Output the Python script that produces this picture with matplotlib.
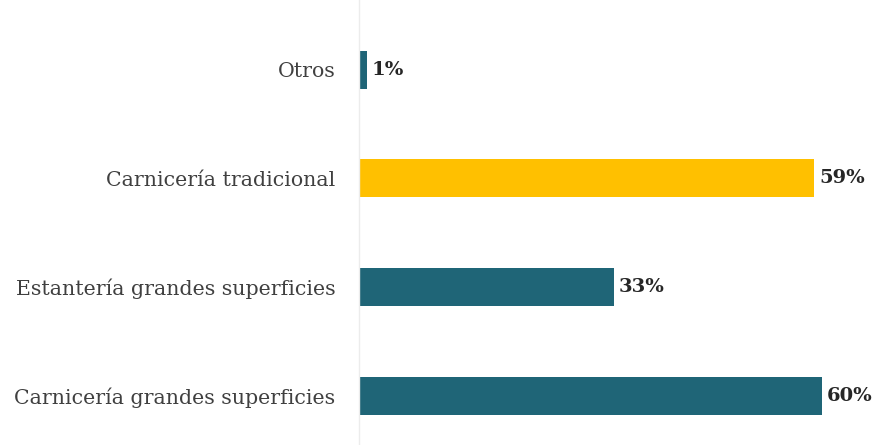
import matplotlib.pyplot as plt

# Lugar de compra de carne
categorias = ["Carnicería grandes superficies", "Estantería grandes superficies",
              "Carnicería tradicional", "Otros"]
valores = [60, 33, 59, 1]
colores = ["#1f6577", "#1f6577", "#ffc000", "#1f6577"]

plt.rcParams['font.family'] = ['DejaVu Serif']

fig = plt.figure(figsize=(8.77, 4.45), dpi=100)
ax = fig.add_axes([359 / 877, 0, 518 / 877, 1])

pos = range(len(categorias))
ax.barh(pos, valores, height=0.35, color=colores)

for y, v in zip(pos, valores):
    ax.text(v + 0.6, y, f"{v}%", va="center", ha="left",
            fontsize=14, fontweight="bold", color="#262626")

ax.set_xlim(0, 67.1)
ax.set_ylim(-0.45, 3.64)
ax.set_yticks(list(pos))
ax.set_yticklabels(categorias, fontsize=14.8, color="#404040")
ax.tick_params(axis="y", length=0, pad=17)
ax.set_xticks([])

for s in ["top", "right", "bottom"]:
    ax.spines[s].set_visible(False)
ax.spines["left"].set_color("#ececec")
ax.spines["left"].set_linewidth(1)

fig.savefig("out.png", dpi=100)
